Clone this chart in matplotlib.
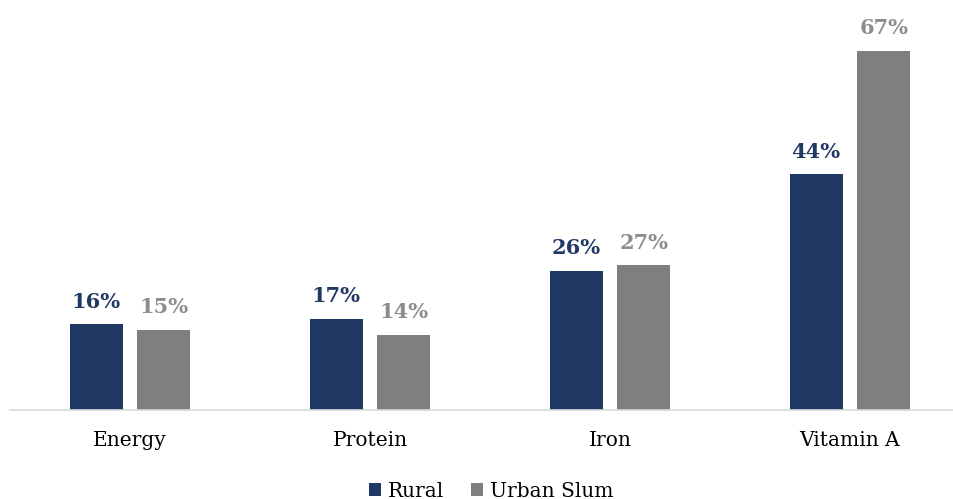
import numpy as np
import matplotlib.pyplot as plt

categories = ['Energy', 'Protein', 'Iron', 'Vitamin A']
rural = [16, 17, 26, 44]
urban_slum = [15, 14, 27, 67]

navy = '#203864'
grey = '#7f7f7f'

plt.rcParams['font.family'] = ['DejaVu Serif']

fig = plt.figure(figsize=(9.54, 4.99), dpi=100)
ax = fig.add_axes([10 / 954, 89 / 499, 944 / 954, 405 / 499])

x = np.arange(len(categories))
w = 0.222
off = 0.141

b1 = ax.bar(x - off, rural, w, color=navy, label='Rural')
b2 = ax.bar(x + off, urban_slum, w, color=grey, label='Urban Slum')

for bar, v in zip(b1, rural):
    ax.annotate(f'{v}%', (bar.get_x() + bar.get_width() / 2, v),
                xytext=(0, 9), textcoords='offset points', ha='center', va='bottom',
                fontsize=15, fontweight='bold', color=navy)
for bar, v in zip(b2, urban_slum):
    ax.annotate(f'{v}%', (bar.get_x() + bar.get_width() / 2, v),
                xytext=(0, 9), textcoords='offset points', ha='center', va='bottom',
                fontsize=15, fontweight='bold', color='#8c8c8c')

ax.set_xlim(-0.5, 824 / 240)
ax.set_ylim(0, 405 / 5.36)
ax.set_xticks(x)
ax.set_xticklabels(categories, fontsize=14.5)
ax.tick_params(axis='x', length=0, pad=15)
ax.set_yticks([])
for s in ['top', 'right', 'left']:
    ax.spines[s].set_visible(False)
ax.spines['bottom'].set_color('#d9d9d9')
ax.spines['bottom'].set_linewidth(1.2)

fig.legend(handles=[b1, b2], loc='lower center', bbox_to_anchor=(0.515, -0.04), ncol=2,
           frameon=False, fontsize=14.5, handlelength=0.6, handleheight=0.6,
           handletextpad=0.35, columnspacing=1.3)

fig.savefig('out.png', dpi=100)
